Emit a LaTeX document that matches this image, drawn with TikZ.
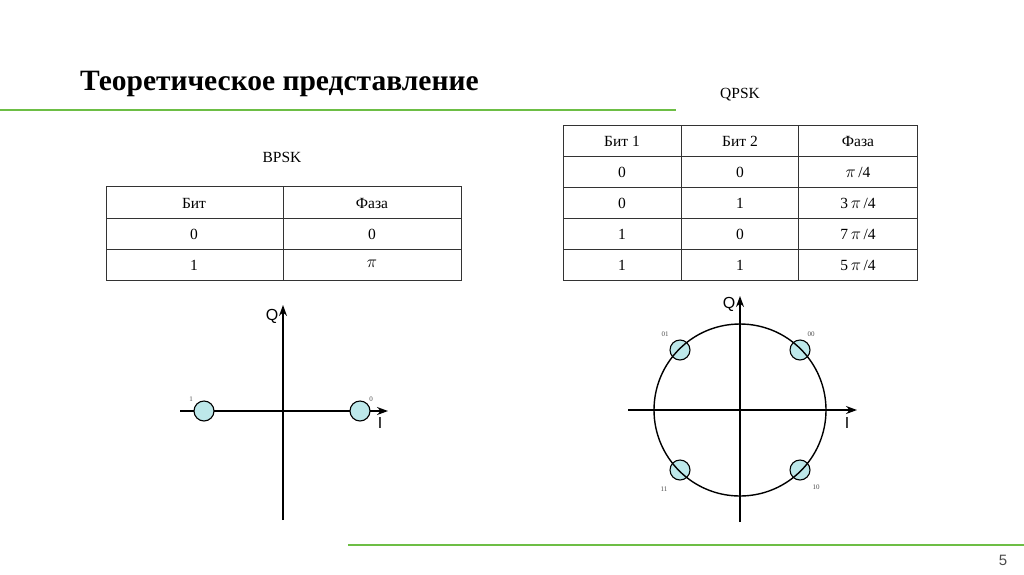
\documentclass[tikz,border=0pt]{standalone}
\usepackage{fontspec}
\setmainfont{Liberation Serif}
\newfontfamily\sansf{Liberation Sans}
\usetikzlibrary{arrows.meta}
\definecolor{grn}{HTML}{6DBE45}
\definecolor{dot}{HTML}{BDE8EA}
\newcommand{\mypi}{{\fontsize{19}{19}\selectfont$\pi$}}
\tikzset{tl/.style={draw=black!80,line width=0.8pt},
 cell/.style={font=\fontsize{15.5}{17}\selectfont},
 ax/.style={line width=1.5pt,-{Stealth[length=11pt,width=8pt]}},
 pt/.style={circle,draw,fill=dot,minimum size=20pt,inner sep=0pt,line width=1.1pt},
 lab/.style={font=\sansf\fontsize{16}{18}\selectfont},
 tiny/.style={font=\fontsize{7}{8}\selectfont,text=black!70}}
\begin{document}
\begin{tikzpicture}[x=1pt,y=-1pt]
\useasboundingbox (0,0) rectangle (1024,574);
\node[anchor=west,font=\bfseries\fontsize{29.5}{32}\selectfont,inner sep=0pt] (title) at (80,84) {Теоретическое представление};
\draw[grn,line width=2pt] (0,110) -- (676,110);
\draw[grn,line width=2pt] (348,545) -- (1024,545);
\node[font=\sansf\fontsize{15}{17}\selectfont,text=black!70] (pg) at (1003,560) {5};
% BPSK table
\node[cell] (bl) at (282,157) {BPSK};
\draw[tl] (106,186) rectangle (461,280);
\foreach \y in {218,249} \draw[tl] (106,\y) -- (461,\y);
\draw[tl] (283,186) -- (283,280);
\node[cell] at (194,203) {Бит}; \node[cell] at (372,203) {Фаза};
\node[cell] at (194,234) {0}; \node[cell] at (372,234) {0};
\node[cell] at (194,265) {1}; \node[cell] at (372,264) {\mypi};
% QPSK table
\node[cell] (ql) at (740,95) {QPSK};
\draw[tl] (563,125) rectangle (917,280);
\foreach \y in {156,187,218,249} \draw[tl] (563,\y) -- (917,\y);
\draw[tl] (681,125) -- (681,280); \draw[tl] (798,125) -- (798,280);
\node[cell] at (622,141) {Бит 1}; \node[cell] at (740,141) {Бит 2}; \node[cell] at (858,141) {Фаза};
\node[cell] at (622,172) {0}; \node[cell] at (740,172) {0}; \node[cell] at (858,172) {\mypi\,/4};
\node[cell] at (622,203) {0}; \node[cell] at (740,203) {1}; \node[cell] at (858,203) {3\,\mypi\,/4};
\node[cell] at (622,234) {1}; \node[cell] at (740,234) {0}; \node[cell] at (858,234) {7\,\mypi\,/4};
\node[cell] at (622,265) {1}; \node[cell] at (740,265) {1}; \node[cell] at (858,265) {5\,\mypi\,/4};
% BPSK diagram
\coordinate (bh0) at (180,411); \coordinate (bh1) at (388,411);
\coordinate (bv0) at (283,520); \coordinate (bv1) at (283,305);
\draw[ax] (bh0) -- (bh1); \draw[ax] (bv0) -- (bv1);
\node[lab] (bq) at (272,316) {Q};
\node[lab] (bi) at (380,423) {I};
\node[pt] (b1) at (204,411) {}; \node[pt] (b0) at (360,411) {};
\node[tiny] at (191,399) {1}; \node[tiny] at (371,399) {0};
% QPSK diagram
\coordinate (c) at (740,410);
\coordinate (qh0) at (628,410); \coordinate (qh1) at (857,410);
\coordinate (qv0) at (740,522); \coordinate (qv1) at (740,296);
\draw[ax] (qh0) -- (qh1); \draw[ax] (qv0) -- (qv1);
\node[lab] (qq) at (729,304) {Q};
\node[lab] (qi) at (847,423) {I};
\node[pt] (p01) at (680,350) {}; \node[pt] (p00) at (800,350) {};
\node[pt] (p11) at (680,470) {}; \node[pt] (p10) at (800,470) {};
\draw[line width=1.4pt] (c) circle (86);
\node[tiny] at (665,334) {01}; \node[tiny] at (811,334) {00};
\node[tiny] at (664,489) {11}; \node[tiny] at (816,487) {10};
\end{tikzpicture}
\end{document}
